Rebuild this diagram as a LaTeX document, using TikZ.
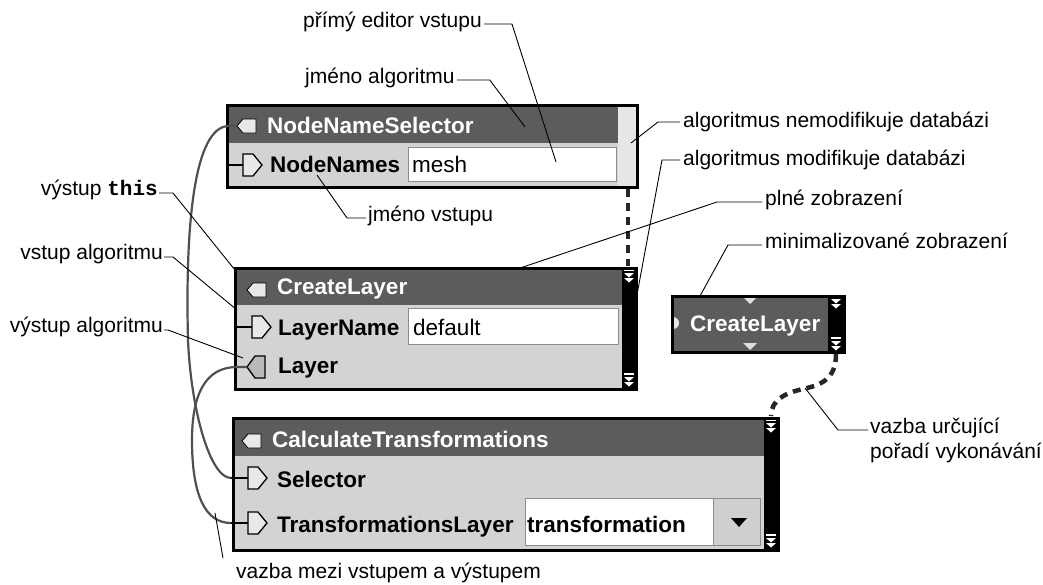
\documentclass[tikz,border=0pt]{standalone}
\usepackage{fontspec}
\setmainfont{Liberation Sans}
\setmonofont{Liberation Mono}
\definecolor{hdr}{HTML}{5C5C5C}
\definecolor{bodyc}{HTML}{D3D3D3}
\definecolor{striplt}{HTML}{E6E6E6}
\definecolor{wirec}{HTML}{505050}
\definecolor{fieldedge}{HTML}{8C8C8C}
\definecolor{portlt}{HTML}{E8E8E8}
\definecolor{portmd}{HTML}{BABABA}
\definecolor{btnc}{HTML}{CFCFCF}
\newcommand\lblfont{\fontsize{21}{25}\selectfont}
\newcommand\boxfont{\fontsize{22.5}{26}\selectfont\bfseries}
\newcommand\fldfont{\fontsize{22.5}{26}\selectfont}
\tikzset{
  boxframe/.style={draw=black, line width=3pt, inner sep=0pt, outer sep=0pt, anchor=north west},
  lbl/.style={font=\lblfont, inner sep=0pt},
  btxt/.style={font=\boxfont, inner sep=0pt, anchor=base west},
  htxt/.style={btxt, text=white},
  ftxt/.style={font=\fldfont, inner sep=0pt, anchor=base west},
  leader/.style={draw=black, line width=0.9pt},
  wire/.style={draw=wirec, line width=2.2pt},
  execlink/.style={draw=black!85, line width=4.5pt, dash pattern=on 8pt off 6pt},
  field/.style={fill=white, draw=fieldedge, line width=1pt},
  inport/.pic={
    \draw[line width=1.3pt] (-17,0) -- (0,0);
    \filldraw[fill=portlt, draw=black, line width=1.3pt] (0,-11) -- (10,-11) -- (19,0) -- (10,11) -- (0,11) -- cycle;
  },
  outport/.pic={
    \draw[line width=1.3pt] (-10,0) -- (0,0);
    \filldraw[fill=portmd, draw=black, line width=1.3pt] (0,0) -- (8,-11) -- (18,-11) -- (18,11) -- (8,11) -- cycle;
  },
  hdrport/.pic={
    \filldraw[fill=portlt, draw=black, line width=0.8pt] (0,0) -- (6,-7) -- (19,-7) -- (19,7) -- (6,7) -- cycle;
  },
  stripicon/.pic={
    \fill[white] (-5,-7) rectangle (5,-5);
    \fill[white] (-5,-3) -- (5,-3) -- (0,1.5) -- cycle;
    \fill[white] (-5,2) -- (5,2) -- (0,6.5) -- cycle;
  },
  minitri/.pic={
    \fill[gray!25] (-7,-3) -- (7,-3) -- (0,4) -- cycle;
  }
}
\begin{document}
\begin{tikzpicture}[x=1pt,y=-1pt]
\useasboundingbox[fill=white] (0,0) rectangle (1043,584);

% ---------- box 1 : NodeNameSelector ----------
\fill[hdr] (227,105) rectangle (618,143);
\fill[bodyc] (227,143) rectangle (618,187);
\fill[striplt] (618,105) rectangle (637,187);
\node[field, minimum width=208pt, minimum height=34pt, anchor=north west, inner sep=0pt] (f1) at (408,147) {};
\node[ftxt] (f1t) at (412,172) {mesh};
\pic at (237,126) {hdrport};
\pic at (243,165) {inport};
\node[htxt] (h1) at (267,133) {NodeNameSelector};
\node[btxt] (r1a) at (270,172) {NodeNames};
\node[boxframe, minimum width=410pt, minimum height=82pt] (b1) at (227,105) {};
\coordinate (b1out) at (237,126);

% ---------- box 2 : CreateLayer ----------
\fill[hdr] (235,268) rectangle (622,305);
\fill[bodyc] (235,305) rectangle (622,389);
\fill[black] (622,268) rectangle (636,389);
\node[field, minimum width=210pt, minimum height=36pt, anchor=north west, inner sep=0pt] (f2) at (408,308) {};
\node[ftxt] (f2t) at (413,335) {default};
\pic at (247,290) {hdrport};
\pic at (252,327) {inport};
\pic at (247,367) {outport};
\node[htxt] (h2) at (277,294) {CreateLayer};
\node[btxt] (r2a) at (278,335) {LayerName};
\node[btxt] (r2b) at (278,373) {Layer};
\pic at (629,276) {stripicon};
\pic at (629,380) {stripicon};
\node[boxframe, minimum width=401pt, minimum height=121pt] (b2) at (235,268) {};
\coordinate (b2out) at (247,367);

% ---------- box 3 : CalculateTransformations ----------
\fill[hdr] (233,418) rectangle (764,456);
\fill[bodyc] (233,456) rectangle (764,550);
\fill[black] (764,418) rectangle (778,550);
\node[field, minimum width=188pt, minimum height=47pt, anchor=north west, inner sep=0pt] (f3) at (525,498) {};
\node[field, fill=btnc, minimum width=47pt, minimum height=47pt, anchor=north west, inner sep=0pt] (dd) at (713,498) {};
\fill[black] (731,518) -- (747,518) -- (739,527) -- cycle;
\node[btxt] (f3t) at (527,532) {transformation};
\pic at (242,441) {hdrport};
\pic at (248,478) {inport};
\pic at (248,523) {inport};
\node[htxt] (h3) at (272,447) {CalculateTransformations};
\node[btxt] (r3a) at (277,487) {Selector};
\node[btxt] (r3b) at (277,532) {TransformationsLayer};
\pic at (771,426) {stripicon};
\pic at (771,541) {stripicon};
\node[boxframe, minimum width=545pt, minimum height=132pt] (b3) at (233,418) {};
\coordinate (b3sel) at (231,478);
\coordinate (b3tl) at (231,523);

% ---------- minimised CreateLayer ----------
\fill[hdr] (672,296) rectangle (828,352);
\fill[black] (828,296) rectangle (844,352);
\begin{scope}
  \clip (672,296) rectangle (700,352);
  \fill[gray!20] (673,323) circle[radius=6pt];
\end{scope}
\pic at (750,300) {minitri};
\pic at (750,346) {minitri};
\node[htxt] (hm) at (690,331) {CreateLayer};
\pic at (836,302) {stripicon};
\pic at (836,344) {stripicon};
\node[boxframe, minimum width=172pt, minimum height=56pt] (bm) at (672,296) {};

% ---------- data wires ----------
\draw[wire] (b1out) -- (228,126) .. controls (195,128) and (185,220) .. (188,340)
  .. controls (191,410) and (210,478) .. (b3sel);
\draw[wire] (b2out) -- (237,367) .. controls (205,367) and (192,395) .. (192,440)
  .. controls (192,495) and (205,523) .. (b3tl);

% ---------- execution order links ----------
\coordinate (e1a) at (628,189);
\coordinate (e1b) at (628,266);
\coordinate (e2a) at (836,354);
\coordinate (e2b) at (771,416);
\draw[execlink] (e1a) -- (e1b);
\draw[execlink] (e2a) .. controls (836,380) and (820,385) .. (803,389)
  .. controls (785,393) and (771,400) .. (e2b);

% ---------- labels ----------
\node[lbl, anchor=base west] (lab1) at (303,27) {přímý editor vstupu};
\node[lbl, anchor=base west] (lab2) at (305,83) {jméno algoritmu};
\node[lbl, anchor=base west] (lab3) at (683,127) {algoritmus nemodifikuje databázi};
\node[lbl, anchor=base west] (lab4) at (683,165) {algoritmus modifikuje databázi};
\node[lbl, anchor=base west] (lab5) at (765,205) {plné zobrazení};
\node[lbl, anchor=base west] (lab6) at (765,248) {minimalizované zobrazení};
\node[lbl, anchor=base east] (lab7) at (158,195) {výstup \texttt{\bfseries this}};
\node[lbl, anchor=base east] (lab8) at (163,259) {vstup algoritmu};
\node[lbl, anchor=base east] (lab9) at (163,332) {výstup algoritmu};
\node[lbl, anchor=base west] (lab10) at (368,221) {jméno vstupu};
\node[lbl, anchor=base west] (lab11a) at (870,433) {vazba určující};
\node[lbl, anchor=base west] (lab11b) at (870,458) {pořadí vykonávání};
\node[lbl, anchor=base west] (lab12) at (236,578) {vazba mezi vstupem a výstupem};

\coordinate (t1) at (556,162);
\coordinate (t2) at (525,127);
\coordinate (t3) at (631,143);
\coordinate (t4) at (636,300);
\coordinate (t5) at (520,268);
\coordinate (t6) at (700,296);
\coordinate (t7) at (235,270);
\coordinate (t8) at (237,310);
\coordinate (t9) at (243,358);
\coordinate (t10) at (317,175);
\coordinate (t11) at (805,388);
\coordinate (t12) at (215,513);
\coordinate (s12) at (223,558);

\draw[leader] (lab1.base east) ++(2,-3) -- ++(28,0) -- (t1);
\draw[leader] (lab2.base east) ++(2,-3) -- ++(33,0) -- (t2);
\draw[leader] (lab3.base west) ++(-3,-5) -- ++(-22,0) -- (t3);
\draw[leader] (lab4.base west) ++(-3,-5) -- ++(-18,0) -- (t4);
\draw[leader] (lab5.base west) ++(-3,-3) -- ++(-45,0) -- (t5);
\draw[leader] (lab6.base west) ++(-3,-3) -- ++(-34,0) -- (t6);
\draw[leader] (lab7.base east) ++(1,-2) -- ++(14,0) -- (t7);
\draw[leader] (lab8.base east) ++(1,-2) -- ++(9,0) -- (t8);
\draw[leader] (lab9.base east) ++(1,-2) -- ++(4,0) -- (t9);
\draw[leader] (lab10.base west) ++(-2,-3) -- ++(-19,0) -- (t10);
\draw[leader] (lab11a.base west) ++(-2,-3) -- ++(-30,0) -- (t11);
\draw[leader] (s12) -- (t12);
\end{tikzpicture}
\end{document}
